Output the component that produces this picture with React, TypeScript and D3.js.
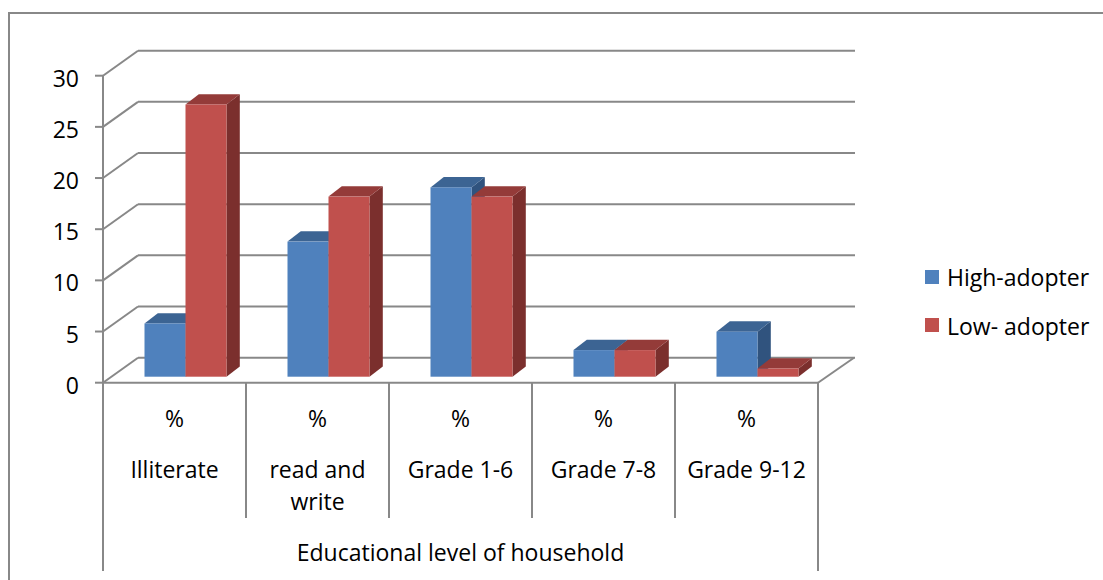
import React from "react";
import * as d3 from "d3";

const categories = ["Illiterate", "read and write", "Grade 1-6", "Grade 7-8", "Grade 9-12"];
const categoryLines = [["Illiterate"], ["read and", "write"], ["Grade 1-6"], ["Grade 7-8"], ["Grade 9-12"]];
const seriesNames = ["High-adopter", "Low- adopter"];
const highAdopter = [5.2, 13.2, 18.5, 2.6, 4.4];
const lowAdopter = [26.6, 17.6, 17.6, 2.6, 0.8];
const yTicks = [0, 5, 10, 15, 20, 25, 30];
const axisTitle = "Educational level of household";

const W = 1103;
const H = 580;
const FONT = "'Open Sans', sans-serif";
const GRID = "#888888";

// oblique depth of the plot box
const DEPTH_X = 35;
const DEPTH_Y = -25;
// bar placement inside the depth and bar thickness
const BAR_DX = 8.5;
const BAR_DY = -6;
const BAR_DEPTH_X = 13.3;
const BAR_DEPTH_Y = -10.3;

const palette = [
  { front: "#4F81BD", top: "#3C6493", side: "#30537E" },
  { front: "#C0504D", top: "#943B39", side: "#7B2F2D" },
];

export default function App() {
  const x = d3.scaleBand<string>().domain(categories).range([103, 818]).padding(0);
  const y = d3.scaleLinear().domain([0, 30]).range([382.7, 75.7]);
  const inner = d3
    .scaleBand<string>()
    .domain(seriesNames)
    .range([33, 33 + 82])
    .padding(0);
  const values = [highAdopter, lowAdopter];

  const x0 = x.range()[0];
  const x1 = x.range()[1];
  const y0 = y(0);

  const pts = (p: number[][]) => p.map((q) => q.join(",")).join(" ");

  const bars: React.ReactNode[] = [];
  categories.forEach((c, ci) => {
    seriesNames.forEach((s, si) => {
      const v = values[si][ci];
      const col = palette[si];
      const left = (x(c) as number) + (inner(s) as number) + BAR_DX;
      const right = left + inner.bandwidth();
      const bottom = y0 + BAR_DY;
      const top = y(v) + BAR_DY;
      const dx = BAR_DEPTH_X;
      const dy = BAR_DEPTH_Y;
      bars.push(
        <g key={`${c}-${s}`}>
          <polygon
            points={pts([[right, top], [right + dx, top + dy], [right + dx, bottom + dy], [right, bottom]])}
            fill={col.side}
          />
          <polygon
            points={pts([[left, top], [left + dx, top + dy], [right + dx, top + dy], [right, top]])}
            fill={col.top}
          />
          <rect x={left} y={top} width={right - left} height={bottom - top} fill={col.front} />
        </g>
      );
    });
  });

  return (
    <svg width={W} height={H} style={{ position: "absolute", left: 0, top: 0 }}>
      <rect x={0} y={0} width={W} height={H} fill="#ffffff" />
      {/* chart frame */}
      <path d={`M9,${H} V13 H${W}`} fill="none" stroke={GRID} strokeWidth={2} />

      {/* back wall gridlines and left wall diagonals */}
      {yTicks.map((t) => (
        <g key={`g${t}`}>
          <line x1={x0 + DEPTH_X} x2={x1 + DEPTH_X + 2} y1={y(t) + DEPTH_Y} y2={y(t) + DEPTH_Y} stroke={GRID} strokeWidth={2} />
          <line x1={x0} x2={x0 + DEPTH_X} y1={y(t)} y2={y(t) + DEPTH_Y} stroke={GRID} strokeWidth={2} />
          <line x1={95} x2={x0} y1={y(t)} y2={y(t)} stroke={GRID} strokeWidth={2} />
          <text x={79} y={y(t) + 11} textAnchor="end" fontFamily={FONT} fontSize={23} fill="#000">
            {t}
          </text>
        </g>
      ))}

      {/* floor */}
      <line x1={x1} y1={y0} x2={x1 + DEPTH_X + 1} y2={y0 + DEPTH_Y} stroke={GRID} strokeWidth={2} />
      <line x1={x0} y1={y0} x2={x1} y2={y0} stroke={GRID} strokeWidth={2} />
      <line x1={x0} y1={y(30)} x2={x0} y2={571} stroke={GRID} strokeWidth={2} />
      <line x1={x1} y1={y0} x2={x1} y2={571} stroke={GRID} strokeWidth={2} />
      {categories.slice(1).map((c) => (
        <line key={`d${c}`} x1={x(c) as number} x2={x(c) as number} y1={y0} y2={518} stroke={GRID} strokeWidth={2} />
      ))}

      {bars}

      {/* category labels */}
      {categories.map((c, ci) => {
        const cx = (x(c) as number) + x.bandwidth() / 2;
        return (
          <g key={`l${c}`} fontFamily={FONT} fontSize={23} fill="#000" textAnchor="middle">
            <text x={cx} y={427}>%</text>
            {categoryLines[ci].map((line, li) => (
              <text key={li} x={cx} y={478 + li * 32}>
                {line}
              </text>
            ))}
          </g>
        );
      })}
      <text x={(x0 + x1) / 2} y={561} textAnchor="middle" fontFamily={FONT} fontSize={23} fill="#000">
        {axisTitle}
      </text>

      {/* legend */}
      {seriesNames.map((s, si) => (
        <g key={`lg${s}`}>
          <rect x={925} y={270 + si * 48} width={14} height={14} fill={palette[si].front} />
          <text x={947} y={286 + si * 48.5} fontFamily={FONT} fontSize={23} fill="#000">
            {s}
          </text>
        </g>
      ))}
    </svg>
  );
}
